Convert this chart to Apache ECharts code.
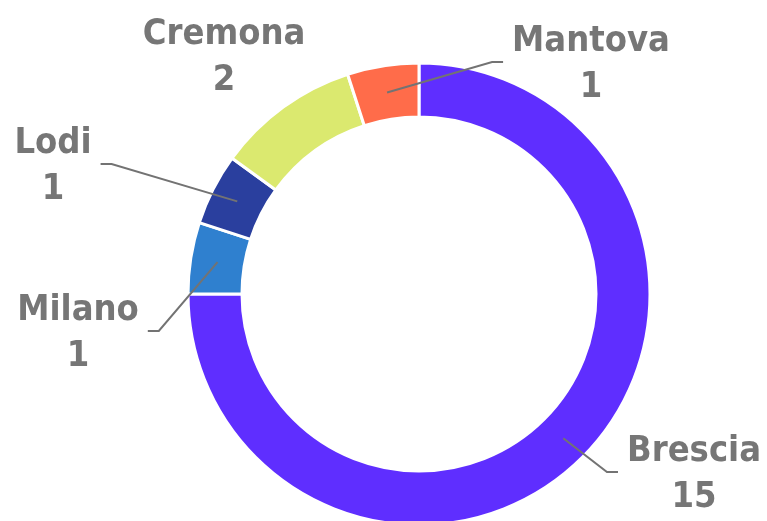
<!DOCTYPE html>
<html>
<head>
<meta charset="utf-8">
<script src="https://cdn.jsdelivr.net/npm/echarts@6/dist/echarts.min.js"></script>
<style>
html,body{margin:0;padding:0;background:#fff;}
#chart{width:767px;height:521px;}
</style>
</head>
<body>
<div id="chart"></div>
<script>
const categories = ['Brescia', 'Milano', 'Lodi', 'Cremona', 'Mantova'];
const values = [15, 1, 1, 2, 1];
const colors = ['#5F2EFF', '#2F80CF', '#2A3F9E', '#DBE96F', '#FF6C4A'];

// layout only: label block centres and which labels get a leader line
const labelAnchors = [[694, 475], [78, 334], [53, 167], [224, 58], [591, 65]];
const showLeader = [true, true, true, false, true];
const CX = 419, CY = 294, R_IN = 177, R_OUT = 231;

const total = values.reduce((a, b) => a + b, 0);

const ringData = categories.map((name, i) => ({
  name: name,
  value: values[i],
  itemStyle: { color: colors[i] }
}));
const labelData = categories.map((name, i) => ({
  name: name,
  value: values[i],
  labelLine: { show: showLeader[i] }
}));

const chart = echarts.init(document.getElementById('chart'), null, { renderer: 'canvas' });
chart.setOption({
  animation: false,
  backgroundColor: '#ffffff',
  series: [{
    type: 'pie',
    z: 2,
    center: [CX, CY],
    radius: [R_IN, R_OUT],
    startAngle: 90,
    clockwise: true,
    silent: true,
    data: ringData,
    itemStyle: { borderColor: '#ffffff', borderWidth: 3 },
    label: { show: false },
    labelLine: { show: false }
  }, {
    type: 'pie',
    z: 5,
    center: [CX, CY],
    radius: [R_IN, R_OUT],
    startAngle: 90,
    clockwise: true,
    silent: true,
    avoidLabelOverlap: false,
    data: labelData,
    itemStyle: { color: 'rgba(0,0,0,0)', borderWidth: 0 },
    label: {
      show: true,
      position: 'outside',
      formatter: '{b}\n{c}',
      fontFamily: '"DejaVu Sans Condensed", "DejaVu Sans", sans-serif',
      fontWeight: 'bold',
      fontSize: 36,
      lineHeight: 46,
      color: '#767676',
      align: 'center'
    },
    labelLine: {
      show: true,
      length: 10,
      length2: 10,
      lineStyle: { color: '#737373', width: 2 }
    },
    labelLayout: function (params) {
      const i = params.dataIndex;
      let cum = 0;
      for (let k = 0; k < i; k++) cum += values[k];
      cum += values[i] / 2;
      const th = cum / total * Math.PI * 2;
      const rm = (R_IN + R_OUT) / 2;
      const sx = CX + rm * Math.sin(th);
      const sy = CY - rm * Math.cos(th);
      const ax = labelAnchors[i][0], ay = labelAnchors[i][1];
      const w = params.labelRect.width;
      const right = ax > CX;
      const end = right ? ax - w / 2 - 9 : ax + w / 2 + 9;
      const elbow = right ? end - 11 : end + 11;
      const ly = ay - 3;
      return {
        x: ax,
        y: ay,
        align: 'center',
        verticalAlign: 'middle',
        labelLinePoints: [[sx, sy], [elbow, ly], [end, ly]]
      };
    }
  }]
});
</script>
</body>
</html>
